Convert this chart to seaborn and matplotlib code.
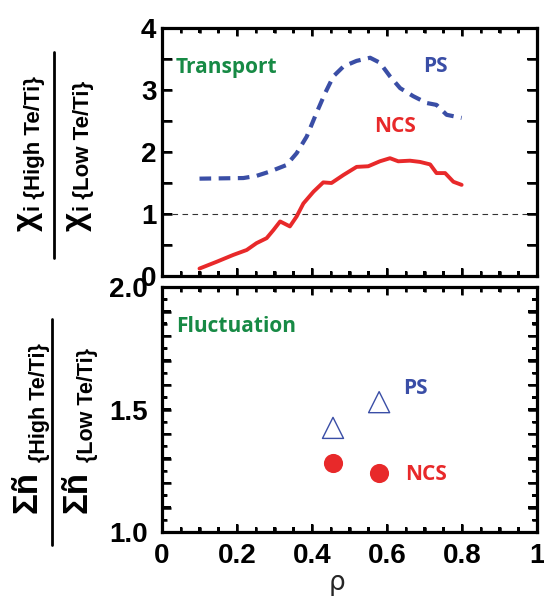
import matplotlib
matplotlib.use("Agg")
import matplotlib.pyplot as plt
import seaborn as sns
import numpy as np
import pandas as pd
from matplotlib.ticker import MultipleLocator
from matplotlib.patches import Rectangle

# ---- data ----
rho_ps = [0.10, 0.217, 0.252, 0.288, 0.332, 0.359, 0.386, 0.412, 0.435, 0.457, 0.484,
          0.519, 0.555, 0.581, 0.608, 0.635, 0.670, 0.706, 0.732, 0.759, 0.799]
chi_ps = [1.57, 1.58, 1.615, 1.685, 1.79, 1.98, 2.25, 2.63, 2.95, 3.22, 3.38,
          3.47, 3.52, 3.44, 3.22, 3.03, 2.90, 2.79, 2.76, 2.60, 2.55]
rho_ncs = [0.10, 0.146, 0.19, 0.226, 0.252, 0.279, 0.297, 0.315, 0.341, 0.359, 0.377,
           0.404, 0.430, 0.452, 0.484, 0.519, 0.550, 0.581, 0.608, 0.630, 0.661,
           0.688, 0.715, 0.732, 0.755, 0.777, 0.799]
chi_ncs = [0.12, 0.23, 0.34, 0.42, 0.53, 0.61, 0.74, 0.88, 0.80, 0.96, 1.17,
           1.36, 1.51, 1.50, 1.63, 1.76, 1.77, 1.85, 1.90, 1.85, 1.86,
           1.84, 1.80, 1.66, 1.66, 1.52, 1.47]
rho_fluct = [0.456, 0.579]
fluct_ps = [1.425, 1.53]
fluct_ncs = [1.28, 1.24]

x_ticks = [0, 0.2, 0.4, 0.6, 0.8, 1]
x_ticklabels = ["0", "0.2", "0.4", "0.6", "0.8", "1"]
top_yticks = [0, 1, 2, 3, 4]
top_yticklabels = ["0", "1", "2", "3", "4"]
bot_yticks = [1.0, 1.1, 1.2, 1.3, 1.4, 1.5, 1.6, 1.7, 1.8, 1.9, 2.0]
bot_yticklabels = ["1.0", "", "", "", "", "1.5", "", "", "", "", "2.0"]

BLUE = "#3a4ea6"
RED = "#e8292a"
GREEN = "#178a45"

sns.set_style("white")
plt.rcParams["font.family"] = "Liberation Sans"
plt.rcParams.update({
    "xtick.direction": "in", "ytick.direction": "in",
    "xtick.top": True, "ytick.right": True,
    "xtick.bottom": True, "ytick.left": True,
    "xtick.color": "black", "ytick.color": "black",
    "xtick.major.size": 6, "xtick.minor.size": 3.6,
    "ytick.major.size": 6.5, "ytick.minor.size": 3.6,
    "xtick.major.width": 1.8, "xtick.minor.width": 1.8,
    "ytick.major.width": 1.8, "ytick.minor.width": 1.8,
})

W, H = 544, 597
fig = plt.figure(figsize=(W / 100, H / 100), dpi=100)

def box(l, r, t, b):
    return [l / W, 1 - b / H, (r - l) / W, (b - t) / H]

AX_W = 375
AX1_H = 276 - 28
AX2_H = 532 - 287
ax1 = fig.add_axes(box(162, 537, 28, 276))
ax2 = fig.add_axes(box(162, 537, 287, 532))

df_ps = pd.DataFrame({"rho": rho_ps, "chi": chi_ps})
df_ncs = pd.DataFrame({"rho": rho_ncs, "chi": chi_ncs})
sns.lineplot(data=df_ps, x="rho", y="chi", ax=ax1, color=BLUE, lw=3.0,
             linestyle=(0, (2.8, 1.8)), sort=False)
sns.lineplot(data=df_ncs, x="rho", y="chi", ax=ax1, color=RED, lw=2.8, sort=False)
ax1.axhline(1.0, color="#333333", lw=0.8, ls=(0, (5, 4)), zorder=1)

df_f = pd.DataFrame({"rho": rho_fluct, "ps": fluct_ps, "ncs": fluct_ncs})
sns.scatterplot(data=df_f, x="rho", y="ps", ax=ax2, marker="^", s=230,
                facecolor="none", edgecolor=BLUE, linewidth=1.0)
sns.scatterplot(data=df_f, x="rho", y="ncs", ax=ax2, marker="o", s=190,
                color=RED, edgecolor=RED, linewidth=0)

for ax in (ax1, ax2):
    ax.set_xlim(0, 1)
    for s in ax.spines.values():
        s.set_linewidth(2.3)
        s.set_color("black")
        s.set_visible(True)
    ax.set_xticks(x_ticks)
    ax.xaxis.set_minor_locator(MultipleLocator(0.05))
    ax.set_xlabel("")
    ax.set_ylabel("")

ax1.set_ylim(0, 4)
ax1.set_yticks(top_yticks, top_yticklabels, fontsize=20, fontweight="bold")
ax1.yaxis.set_minor_locator(MultipleLocator(0.5))
ax1.tick_params(axis="y", which="both", length=7.5, pad=4)
ax1.tick_params(axis="x", labelbottom=False)

ax2.set_ylim(1.0, 2.0)
ax2.set_yticks(bot_yticks, bot_yticklabels, fontsize=20, fontweight="bold")
ax2.yaxis.set_minor_locator(MultipleLocator(0.05))
ax2.tick_params(axis="y", pad=10)
ax2.set_xticks(x_ticks, x_ticklabels, fontsize=20, fontweight="bold")
ax2.tick_params(axis="x", pad=8)
ax2.set_xlabel("ρ", fontsize=19, family="DejaVu Sans")
ax2.xaxis.set_label_coords(0.467, -0.155)

# ---- extra tick marks as small filled patches (same size as the ticks) ----
TW = 2.5  # tick width in pixels

def xtick_rects(ax, values, length_px, ax_h):
    tr = ax.get_xaxis_transform()
    w = TW / AX_W
    f = length_px / ax_h
    for v in values:
        for y0 in (0, 1 - f):
            ax.add_patch(Rectangle((v - w / 2, y0), w, f, transform=tr,
                                   facecolor="black", lw=0, clip_on=False, zorder=4))

def ytick_rects(ax, values, length_px, ax_h, span):
    tr = ax.get_yaxis_transform()
    h = TW / ax_h * span
    f = length_px / AX_W
    for v in values:
        for x0 in (0, 1 - f):
            ax.add_patch(Rectangle((x0, v - h / 2), f, h, transform=tr,
                                   facecolor="black", lw=0, clip_on=False, zorder=4))

x_major = [0.2, 0.4, 0.6, 0.8]
x_minor = [0.05, 0.1, 0.15, 0.25, 0.3, 0.35, 0.45, 0.5, 0.55, 0.65, 0.7, 0.75, 0.85, 0.9, 0.95]
xtick_rects(ax1, x_major, 8.3, AX1_H)
xtick_rects(ax1, x_minor, 5, AX1_H)
xtick_rects(ax2, x_major, 8.3, AX2_H)
xtick_rects(ax2, x_minor, 5, AX2_H)
ytick_rects(ax1, [0.5, 1, 1.5, 2, 2.5, 3, 3.5], 10.4, AX1_H, 4.0)
ytick_rects(ax2, [1.1, 1.2, 1.3, 1.4, 1.5, 1.6, 1.7, 1.8, 1.9], 9, AX2_H, 1.0)
ytick_rects(ax2, [1.05, 1.15, 1.25, 1.35, 1.45, 1.55, 1.65, 1.75, 1.85, 1.95], 5, AX2_H, 1.0)

txt = dict(family="Open Sans", fontweight="bold", fontsize=15)
ax1.text(0.035, 3.36, "Transport", color=GREEN, va="center", ha="left", **txt)
ax1.text(0.728, 3.38, "PS", color=BLUE, va="center", ha="center", **txt)
ax1.text(0.621, 2.41, "NCS", color=RED, va="center", ha="center", **txt)
ax2.text(0.038, 1.838, "Fluctuation", color=GREEN, va="center", ha="left", **txt)
ax2.text(0.675, 1.587, "PS", color=BLUE, va="center", ha="center", **txt)
ax2.text(0.703, 1.233, "NCS", color=RED, va="center", ha="center", **txt)

# ---- fraction y labels (rotated plain text) ----
def fx(px):
    return px / W
def fy(py):
    return 1 - py / H

rot = dict(rotation=90, rotation_mode="anchor", ha="left", va="baseline",
           fontweight="bold", color="black")
fig.text(fx(36), fy(231), "χ", fontsize=24, **rot)
fig.text(fx(40), fy(211), "i {High Te/Ti}", fontsize=16, **rot)
fig.text(fx(85), fy(231), "χ", fontsize=24, **rot)
fig.text(fx(89), fy(211), "i {Low Te/Ti}", fontsize=16, **rot)
fig.add_artist(plt.Line2D([fx(54), fx(54)], [fy(52), fy(258)], color="black", lw=2.0))

fig.text(fx(36), fy(513), "Σñ", fontsize=25, **rot)
fig.text(fx(45), fy(462), "{High Te/Ti}", fontsize=15.5, **rot)
fig.text(fx(86), fy(513), "Σñ", fontsize=25, **rot)
fig.text(fx(93), fy(462), "{Low Te/Ti}", fontsize=15.5, **rot)
fig.add_artist(plt.Line2D([fx(52), fx(52)], [fy(319), fy(545)], color="black", lw=2.0))

fig.savefig("out.png", dpi=100)
